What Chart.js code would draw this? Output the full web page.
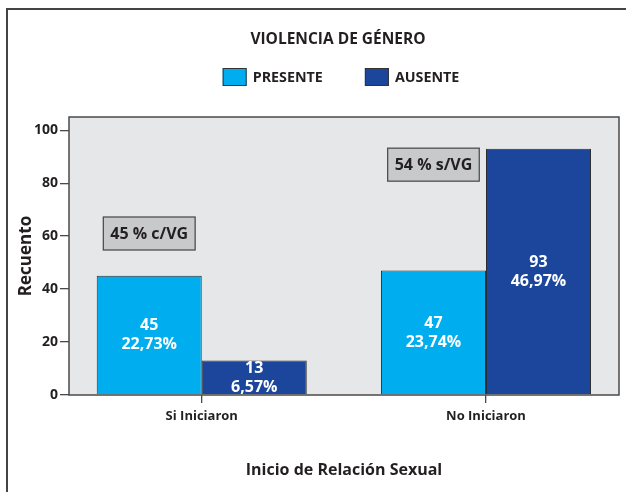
<!DOCTYPE html>
<html>
<head>
<meta charset="utf-8">
<script src="https://cdn.jsdelivr.net/npm/chart.js@4.4.0/dist/chart.umd.min.js"></script>
<style>
  body { margin: 0; background: #fff; }
</style>
</head>
<body>
<canvas id="myChart" width="626" height="492"></canvas>
<script>
// datos
const categorias = ['Si Iniciaron', 'No Iniciaron'];
const presente = [45, 47];
const ausente = [13, 93];
const pctPresente = [22.73, 23.74];
const pctAusente = [6.57, 46.97];
const ticksY = [0, 20, 40, 60, 80, 100];
const notas = ['45 % c/VG', '54 % s/VG'];
const notasY = [61, 87];

const fuente = '"Open Sans", "DejaVu Sans", sans-serif';
const colorPresente = '#00aeef';
const colorAusente = '#1b469b';
const colorTexto = '#231f20';

function pct(v) {
  return v.toFixed(2).replace('.', ',') + '%';
}

// cada categoria en la posicion 1, 2 de un eje lineal
function puntos(valores) {
  return valores.map((v, i) => ({ x: i + 1, y: v }));
}

// fondo gris y marco del area
const fondo = {
  id: 'fondo',
  beforeDraw(chart) {
    const ctx = chart.ctx;
    const a = chart.chartArea;
    ctx.save();
    ctx.fillStyle = '#e6e7e8';
    ctx.fillRect(a.left, a.top, a.right - a.left, a.bottom - a.top);
    // marco exterior
    ctx.strokeStyle = '#444';
    ctx.lineWidth = 2;
    ctx.strokeRect(7, 9, 700, 600);
    ctx.restore();
  },
  afterDatasetsDraw(chart) {
    const ctx = chart.ctx;
    const a = chart.chartArea;
    ctx.save();
    ctx.strokeStyle = '#4a4a4a';
    ctx.lineWidth = 1.5;
    ctx.strokeRect(a.left, a.top, a.right - a.left, a.bottom - a.top);
    ctx.restore();
  }
};

// titulo y leyenda dibujados a mano
const cabecera = {
  id: 'cabecera',
  afterDraw(chart) {
    const ctx = chart.ctx;
    ctx.save();
    ctx.fillStyle = colorTexto;
    ctx.font = 'bold 15.5px ' + fuente;
    ctx.textAlign = 'center';
    ctx.textBaseline = 'middle';
    ctx.fillText('VIOLENCIA DE GÉNERO', 338, 40);

    ctx.font = 'bold 14.3px ' + fuente;
    const items = chart.data.datasets.map(d => ({ text: d.label, color: d.backgroundColor }));
    const box = 24, gap = 6, sep = 42;
    let total = 0;
    items.forEach((it, i) => {
      it.w = ctx.measureText(it.text).width;
      total += box + gap + it.w + (i < items.length - 1 ? sep : 0);
    });
    let x = 341 - total / 2;
    ctx.textAlign = 'left';
    items.forEach(it => {
      ctx.fillStyle = it.color;
      ctx.fillRect(x, 68, box, 18);
      ctx.strokeStyle = '#333';
      ctx.lineWidth = 1;
      ctx.strokeRect(x + 0.5, 68.5, box - 1, 17);
      ctx.fillStyle = colorTexto;
      ctx.fillText(it.text, x + box + gap, 78);
      x += box + gap + it.w + sep;
    });
    ctx.restore();
  }
};

// valores dentro de las barras y cajas de notas
const etiquetas = {
  id: 'etiquetas',
  afterDatasetsDraw(chart) {
    const ctx = chart.ctx;
    const pcts = [pctPresente, pctAusente];
    ctx.save();
    ctx.textAlign = 'center';
    ctx.textBaseline = 'middle';
    ctx.font = 'bold 16px ' + fuente;
    ctx.fillStyle = '#fff';
    chart.data.datasets.forEach((ds, i) => {
      chart.getDatasetMeta(i).data.forEach((bar, j) => {
        const mid = (bar.y + bar.base) / 2;
        ctx.fillText(ds.data[j].y, bar.x, mid - 9.5);
        ctx.fillText(pct(pcts[i][j]), bar.x, mid + 9.5);
      });
    });

    const meta = chart.getDatasetMeta(0);
    const y = chart.scales.y;
    notas.forEach((t, j) => {
      const cx = meta.data[j].x;
      const cy = y.getPixelForValue(notasY[j]);
      const w = ctx.measureText(t).width + 14;
      const h = 33;
      ctx.fillStyle = '#c8c9cb';
      ctx.fillRect(cx - w / 2, cy - h / 2, w, h);
      ctx.strokeStyle = '#444';
      ctx.lineWidth = 1.2;
      ctx.strokeRect(cx - w / 2, cy - h / 2, w, h);
      ctx.fillStyle = colorTexto;
      ctx.fillText(t, cx, cy + 1);
    });
    ctx.restore();
  }
};

const ctx = document.getElementById('myChart').getContext('2d');
const myChart = new Chart(ctx, {
  type: 'bar',
  data: {
    datasets: [{
      label: 'PRESENTE',
      data: puntos(presente),
      backgroundColor: colorPresente,
      borderColor: '#2e2e2e',
      borderWidth: 1
    }, {
      label: 'AUSENTE',
      data: puntos(ausente),
      backgroundColor: colorAusente,
      borderColor: '#2e2e2e',
      borderWidth: 1
    }]
  },
  options: {
    responsive: false,
    animation: false,
    layout: { padding: { top: 117, right: 7, left: 0, bottom: 0 } },
    datasets: {
      bar: { categoryPercentage: 0.739, barPercentage: 1 }
    },
    plugins: {
      legend: { display: false },
      title: { display: false },
      tooltip: { enabled: false }
    },
    scales: {
      x: {
        type: 'linear',
        offset: false,
        min: 0.533,
        max: 2.468,
        afterFit(scale) { scale.height = 97; },
        afterBuildTicks(scale) { scale.ticks = categorias.map((c, i) => ({ value: i + 1 })); },
        grid: { offset: false, drawOnChartArea: false, tickLength: 8, color: '#4a4a4a', lineWidth: 1.3 },
        border: { display: false },
        ticks: {
          color: colorTexto,
          font: { family: fuente, size: 13, weight: 'bold' },
          padding: 5,
          callback: v => categorias[v - 1]
        },
        title: {
          display: true,
          text: 'Inicio de Relación Sexual',
          color: colorTexto,
          font: { family: fuente, size: 16, weight: 'bold' },
          padding: { top: 0, bottom: 12 }
        }
      },
      y: {
        min: 0,
        max: 105,
        afterFit(scale) { scale.width = 69; },
        afterBuildTicks(scale) { scale.ticks = ticksY.map(v => ({ value: v })); },
        grid: { drawOnChartArea: false, tickLength: 9, color: '#4a4a4a', lineWidth: 1.3 },
        border: { display: false },
        ticks: { color: colorTexto, font: { family: fuente, size: 14, weight: 'bold' }, padding: 2 },
        title: {
          display: true,
          text: 'Recuento',
          color: colorTexto,
          font: { family: fuente, size: 17, weight: 'bold' },
          padding: { top: 16, bottom: 0 }
        }
      }
    }
  },
  plugins: [fondo, etiquetas, cabecera]
});
</script>
</body>
</html>
